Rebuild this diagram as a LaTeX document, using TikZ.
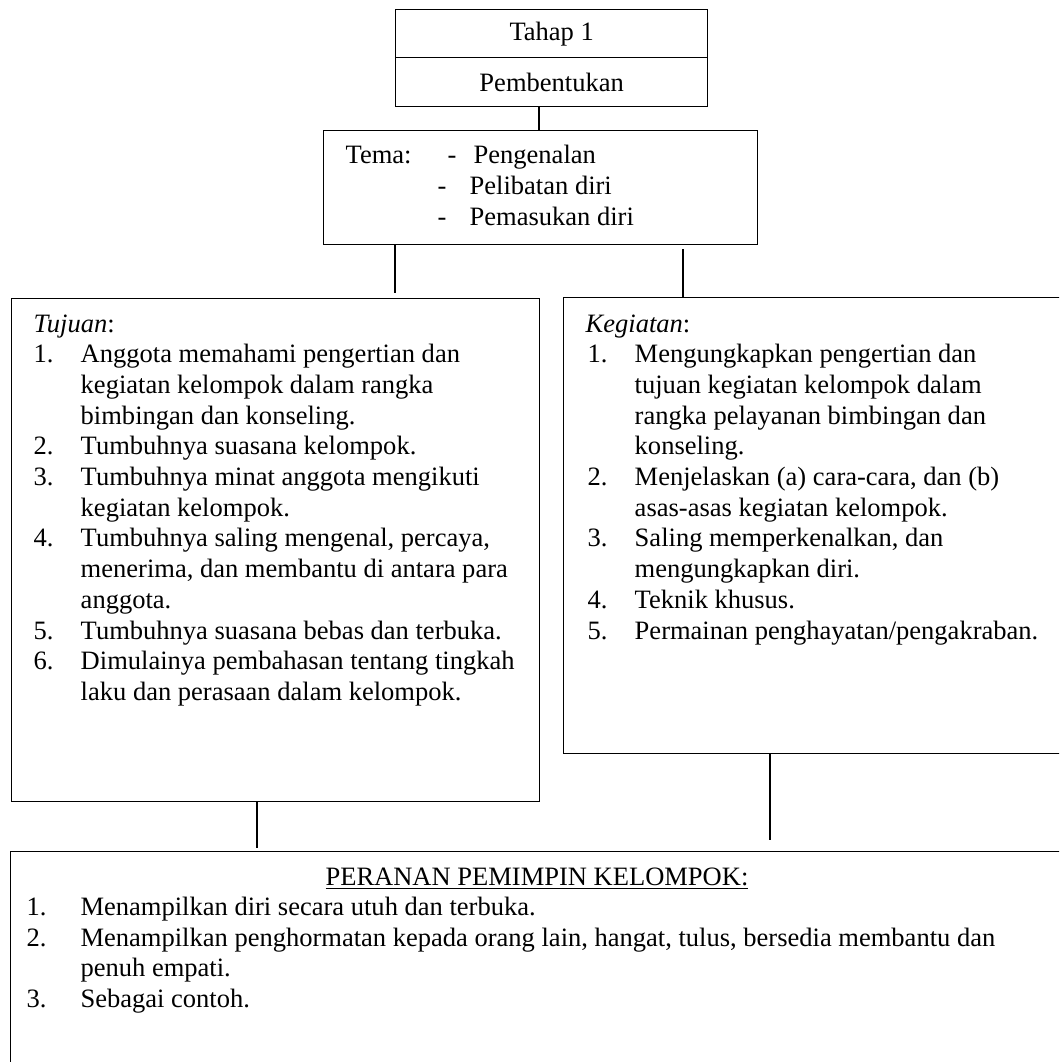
\documentclass[tikz,border=0pt]{standalone}
\usepackage{fontspec}
\setmainfont{Liberation Serif}
\newcommand\pxu{0.4525pt}

\begin{document}
\begin{tikzpicture}[
    x=\pxu, y=-\pxu,
    line width=0.6pt,
    font=\fontsize{12}{13.9}\selectfont,
    box/.style={draw, rectangle, anchor=north west, inner sep=0pt},
    txt/.style={anchor=base west, inner sep=0pt}
]
    \useasboundingbox (0,0) rectangle (1059,1062);
    \clip (0,0) rectangle (1059,1062);

    \node[box, minimum width=312*\pxu, minimum height=48*\pxu] (tahap) at (395,9) {Tahap 1};
    \node[box, minimum width=312*\pxu, minimum height=49*\pxu] (bentuk) at (395,57) {Pembentukan};
    \node[box, minimum width=434*\pxu, minimum height=114*\pxu] (tema) at (323,130) {};
    \node[box, minimum width=528*\pxu, minimum height=503*\pxu] (tujuan) at (11,298) {};
    \node[box, minimum width=540*\pxu, minimum height=456*\pxu] (kegiatan) at (563,297) {};
    \node[box, minimum width=1100*\pxu, minimum height=260*\pxu] (peranan) at (10,851) {};

    \coordinate (topx) at (539,0);
    \coordinate (endA) at (395,293);
    \coordinate (startB) at (683,249);
    \coordinate (endC) at (257,848);
    \coordinate (endD) at (770,840);
    \draw
        (bentuk.south -| topx) -- (tema.north -| topx)
        (tema.south -| endA) -- (endA)
        (startB) -- (kegiatan.north -| startB)
        (tujuan.south -| endC) -- (endC)
        (kegiatan.south -| endD) -- (endD);

    \node[txt] (temalbl) at (345,163) {Tema:};
    \foreach \dx/\tx/\by/\entry [count=\i] in {
        447/473/163/Pengenalan,
        437/469/194/Pelibatan diri,
        437/469/225/Pemasukan diri
    } {
        \node[txt] (dash\i) at (\dx,\by) {-};
        \node[txt] (tema\i) at (\tx,\by) {\entry};
    }

    \node[txt] (tujuanlbl) at (33,332) {\textit{Tujuan}:};
    \foreach \n/\t [count=\i] in {
        1./Anggota memahami pengertian dan,
        /kegiatan kelompok dalam rangka,
        /bimbingan dan konseling.,
        2./Tumbuhnya suasana kelompok.,
        3./Tumbuhnya minat anggota mengikuti,
        /kegiatan kelompok.,
        4./{Tumbuhnya saling mengenal, percaya,},
        /{menerima, dan membantu di antara para},
        /anggota.,
        5./Tumbuhnya suasana bebas dan terbuka.,
        6./Dimulainya pembahasan tentang tingkah,
        /laku dan perasaan dalam kelompok.
    } {
        \node[txt] (tujuan\i) at (33,332+30.7*\i) {\makebox[21.3pt][l]{\n}\t};
    }

    \node[txt] (kegiatanlbl) at (585,332) {\textit{Kegiatan}:};
    \foreach \n/\t [count=\i] in {
        1./Mengungkapkan pengertian dan,
        /tujuan kegiatan kelompok dalam,
        /rangka pelayanan bimbingan dan,
        /konseling.,
        2./{Menjelaskan (a) cara-cara, dan (b)},
        /asas-asas kegiatan kelompok.,
        3./{Saling memperkenalkan, dan},
        /mengungkapkan diri.,
        4./Teknik khusus.,
        5./{Permainan penghayatan/pengakraban.}
    } {
        \node[txt] (kegiatan\i) at (587,332+30.7*\i) {\makebox[21.3pt][l]{\n}\t};
    }

    \node[anchor=base, inner sep=0pt] (perananlbl) at (537,885) {\underline{PERANAN PEMIMPIN KELOMPOK:}};
    \foreach \n/\t [count=\i] in {
        1./Menampilkan diri secara utuh dan terbuka.,
        2./{Menampilkan penghormatan kepada orang lain, hangat, tulus, bersedia membantu dan},
        /penuh empati.,
        3./Sebagai contoh.
    } {
        \node[txt] (peranan\i) at (26,885+30.5*\i) {\makebox[24.4pt][l]{\n}\t};
    }
\end{tikzpicture}
\end{document}
